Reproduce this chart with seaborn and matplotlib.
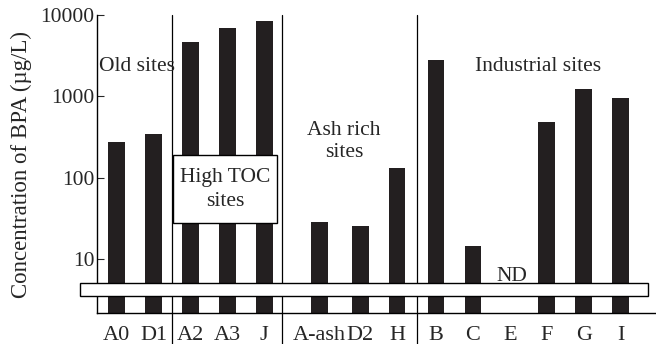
import numpy as np
import pandas as pd
import seaborn as sns
import matplotlib.pyplot as plt
from matplotlib.patches import Rectangle

# BPA concentration per site (ug/L), E was not detected
sites = ['A0', 'D1', 'A2', 'A3', 'J', 'A-ash', 'D2', 'H', 'B', 'C', 'E', 'F', 'G', 'I']
bpa = [273, 349, 4630, 6870, 8510, 29, 26, 131, 2800, 14.7, np.nan, 485, 1220, 948]
yticks = [10, 100, 1000, 10000]
ytick_labels = ['10', '100', '1000', '10000']

# spacing between neighbouring bars (slightly wider after J and A-ash)
gaps = [0, 1, 1, 1, 1, 1.5, 1.1, 1, 1.05, 1, 1, 1, 1, 1]
pos = np.cumsum(gaps)
group_ends = [1, 4, 7]  # index of the last bar of each group

df = pd.DataFrame({'pos': pos, 'bpa': bpa})

sns.set_style("ticks")
plt.rcParams['font.family'] = ['Liberation Serif', 'DejaVu Serif']

fig = plt.figure(figsize=(6.56, 3.44), dpi=100)
ax = fig.add_axes([97 / 656, 31 / 344, 559 / 656, 298 / 344])
# log scale has to be set before seaborn draws, otherwise bars vanish
ax.set_yscale('log')

sns.barplot(data=df, x='pos', y='bpa', native_scale=True,
            width=0.45, color='#231f20', saturation=1, linewidth=0,
            errorbar=None, ax=ax)

ax.set_ylim(2.2, 10000)
ax.set_xlim(pos[0] - 0.53, pos[-1] + 0.96)
ax.set_yticks(yticks)
ax.set_yticklabels(ytick_labels)
ax.minorticks_off()
ax.set_xticks(pos)
ax.set_xticklabels(sites)
ax.set_xlabel('')
ax.set_ylabel('Concentration of BPA (µg/L)', fontsize=16.5, labelpad=6)
ax.tick_params(axis='y', direction='in', length=5, width=0.8, pad=2, labelsize=15.5)
ax.tick_params(axis='x', length=0, pad=9, labelsize=16)
for s in ['top', 'right']:
    ax.spines[s].set_visible(False)
for s in ['left', 'bottom']:
    ax.spines[s].set_color('black')
    ax.spines[s].set_linewidth(1)

# group dividers running down through the tick labels
for i in group_ends:
    x = (pos[i] + pos[i + 1]) / 2 if i != 4 else pos[i] + 0.47
    ax.plot([x, x], [-0.105, 1.0], transform=ax.get_xaxis_transform(),
            color='black', lw=0.9, clip_on=False, zorder=3)

# white band across the bars (axis break)
ax.add_patch(Rectangle((-0.0304, 0.057), 1.016, 0.0436, transform=ax.transAxes,
                       facecolor='white', edgecolor='black', lw=1,
                       clip_on=False, zorder=5))

# High TOC label box
ax.add_patch(Rectangle((0.136, 0.302), 0.186, 0.228, transform=ax.transAxes,
                       facecolor='white', edgecolor='black', lw=1,
                       clip_on=False, zorder=5))
ax.text(0.229, 0.415, 'High TOC\nsites', transform=ax.transAxes, ha='center',
        va='center', fontsize=15.5, linespacing=1.35, zorder=6)

ax.text(0.0707, 0.826, 'Old sites', transform=ax.transAxes, ha='center',
        va='center', fontsize=15.5)
ax.text(0.442, 0.575, 'Ash rich\nsites', transform=ax.transAxes, ha='center',
        va='center', fontsize=15.5, linespacing=1.25)
ax.text(0.789, 0.826, 'Industrial sites', transform=ax.transAxes, ha='center',
        va='center', fontsize=15.5)
ax.text(0.742, 0.124, 'ND', transform=ax.transAxes, ha='center',
        va='center', fontsize=15.5)

fig.savefig('out.png', dpi=100)
